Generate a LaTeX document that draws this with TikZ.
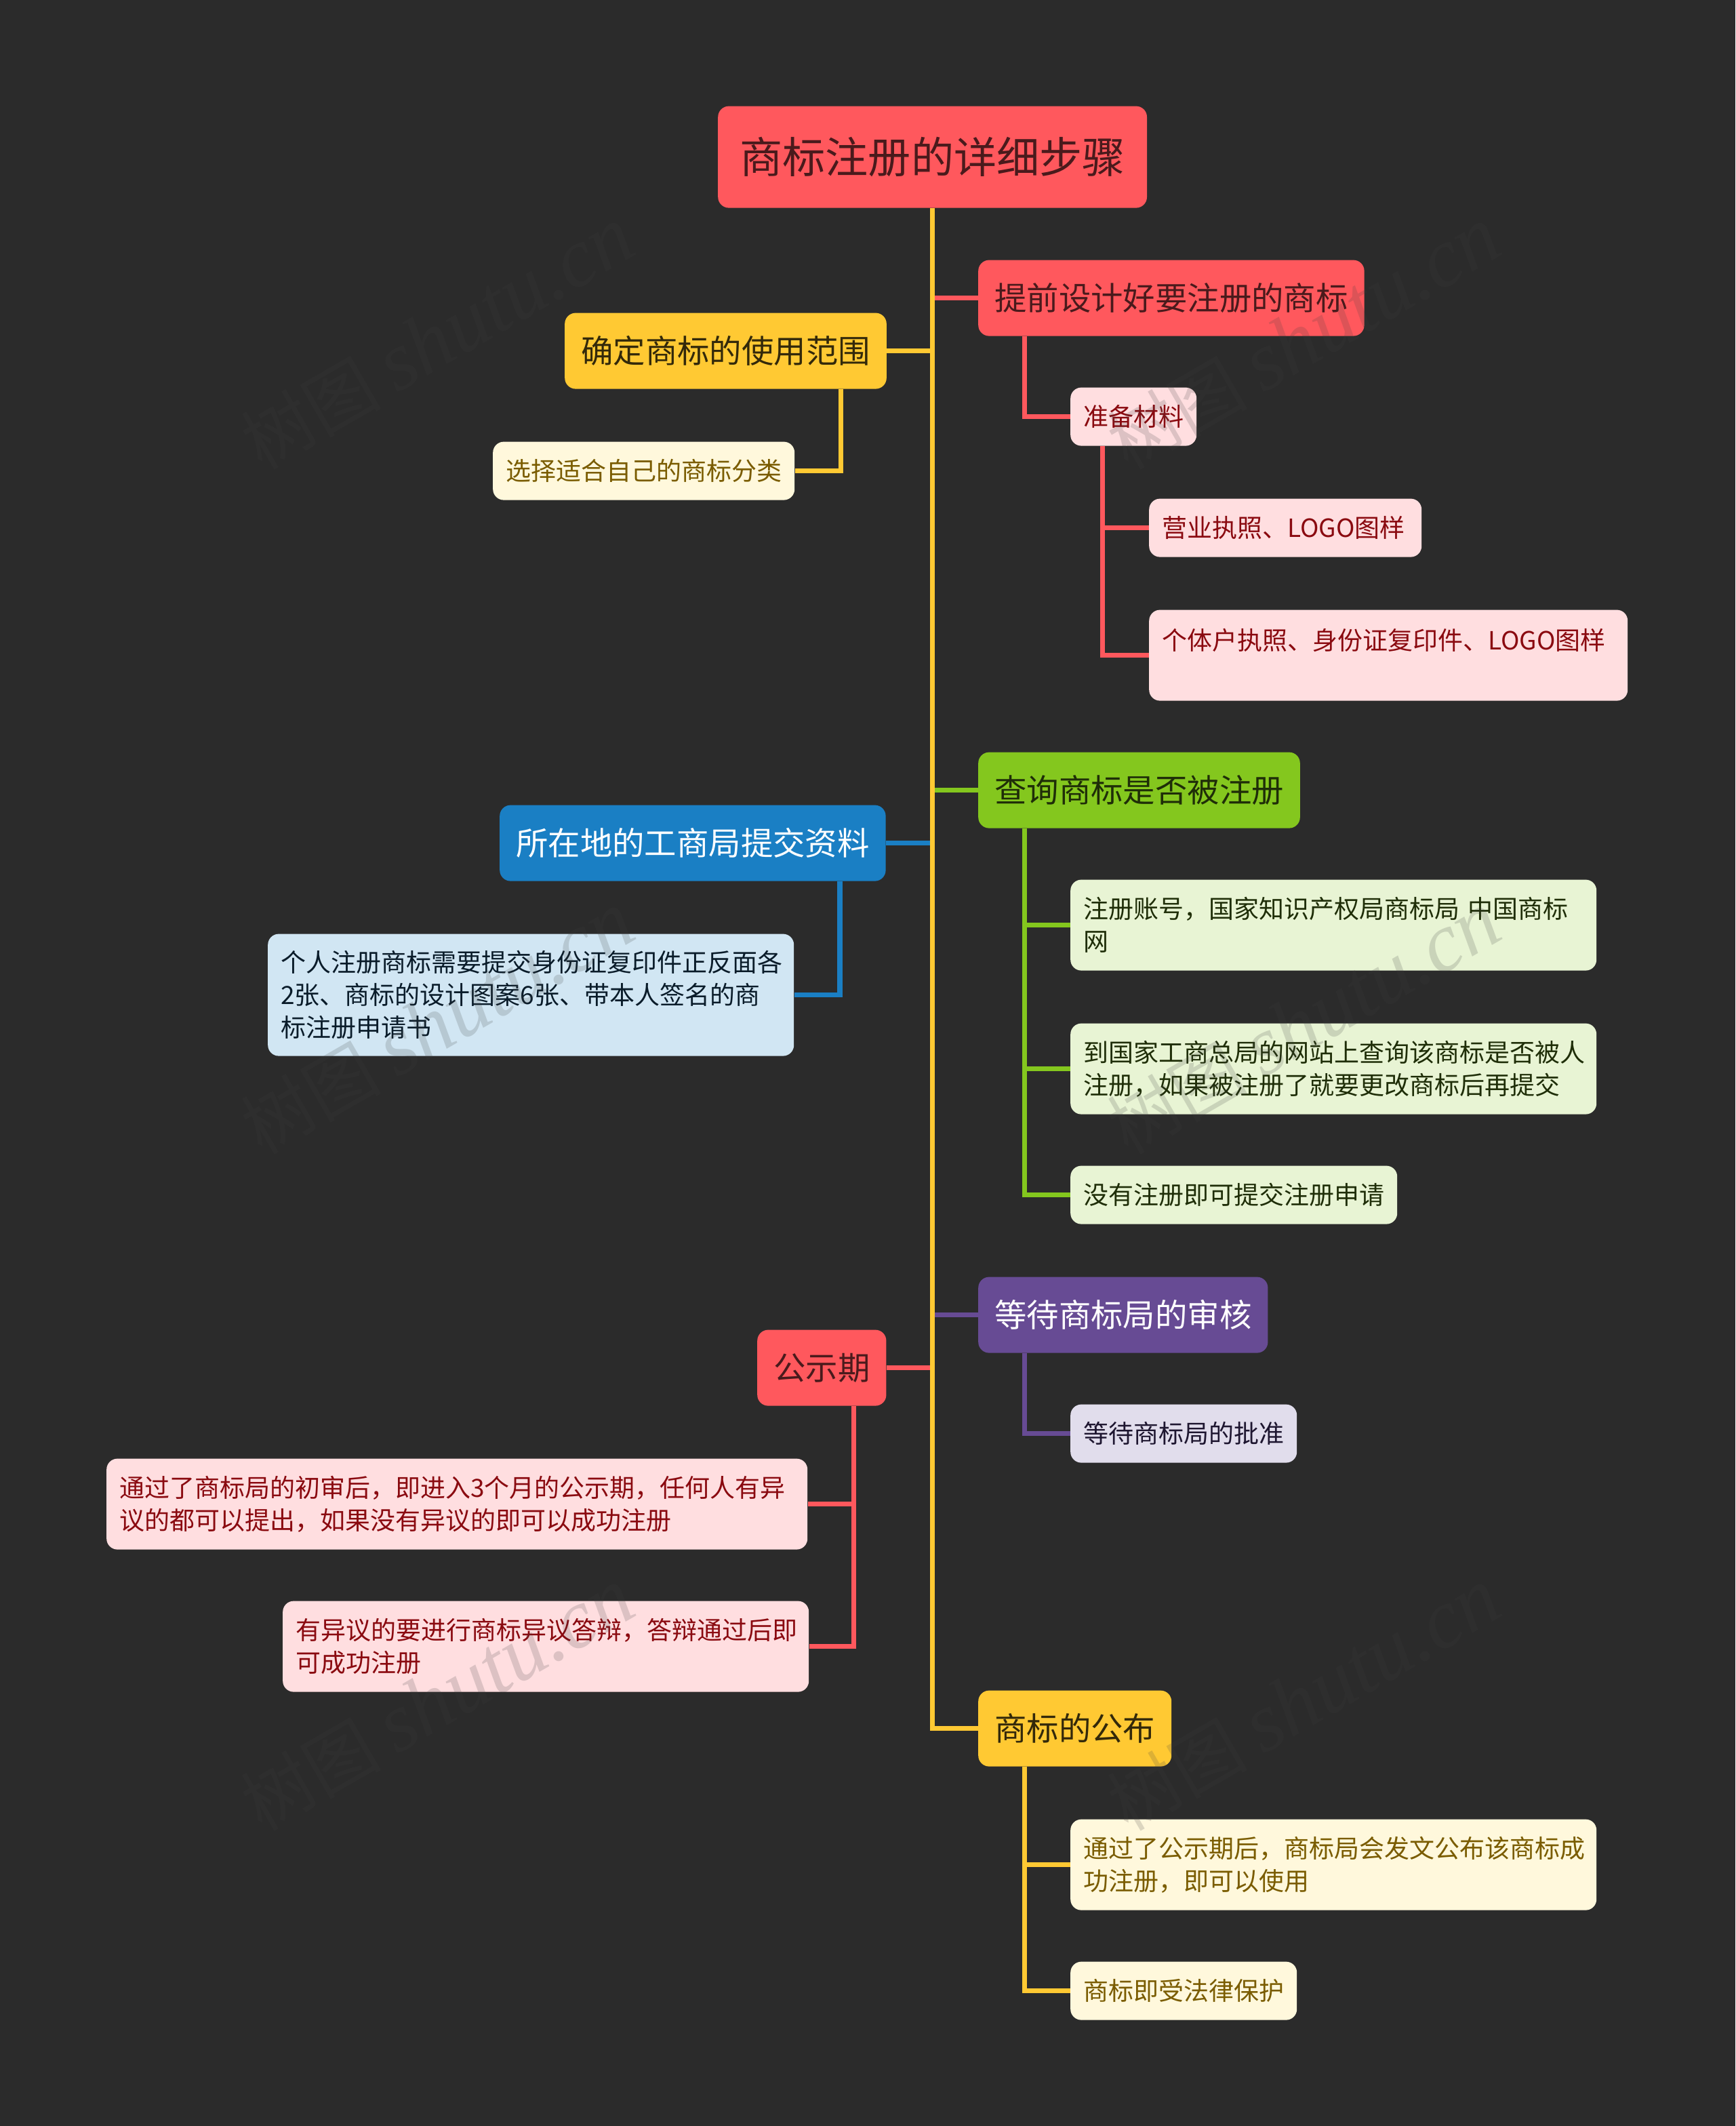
\documentclass[tikz,border=0pt]{standalone}
\usepackage{fontspec}
\setmainfont{Noto Sans CJK SC}
\newfontfamily\markfont[ItalicFont=Liberation Serif Italic]{Liberation Serif}

\definecolor{bgdark}{HTML}{2B2B2B}
\definecolor{redmain}{HTML}{FF585D}
\definecolor{redleaf}{HTML}{FFDEE0}
\definecolor{redtext}{HTML}{8A0A10}
\definecolor{redhead}{HTML}{4A1A1C}
\definecolor{yellowmain}{HTML}{FFC933}
\definecolor{yellowleaf}{HTML}{FFF8DC}
\definecolor{yellowtext}{HTML}{7A5C00}
\definecolor{yellowhead}{HTML}{33290A}
\definecolor{greenmain}{HTML}{84C71E}
\definecolor{greenleaf}{HTML}{E8F4D4}
\definecolor{greentext}{HTML}{1F2E08}
\definecolor{bluemain}{HTML}{1A7FC4}
\definecolor{blueleaf}{HTML}{D1E6F3}
\definecolor{bluetext}{HTML}{0A1C2A}
\definecolor{purplemain}{HTML}{674B94}
\definecolor{purpleleaf}{HTML}{E1DDEC}
\definecolor{purpletext}{HTML}{1E1630}
\definecolor{markgray}{HTML}{404040}

\tikzset{
    box/.style={rounded corners=8pt, anchor=north west, inner ysep=0pt, align=left},
    rootbox/.style={box, fill=redmain, text=redhead, inner xsep=16pt,
        font=\fontsize{31.6}{38}\selectfont, minimum height=75pt},
    topic/.style 2 args={box, fill=#1, text=#2, inner xsep=12pt,
        font=\fontsize{23.7}{30}\selectfont, minimum height=56pt},
    leaf/.style 2 args={box, fill=#1, text=#2, inner xsep=9.5pt,
        font=\fontsize{18.5}{24}\selectfont},
    oneline/.style={minimum height=43pt},
    twolines/.style={minimum height=67pt},
    link/.style={draw=#1, line width=3.6pt},
    markstyle/.style={rotate=30, text=markgray, opacity=0.18, inner sep=0pt,
        font=\fontsize{51.5}{60}\selectfont}
}

\begin{document}
\begin{tikzpicture}[x=1pt, y=-1pt]

    % Background and page size
    \fill[bgdark] (0,0) rectangle (1280,1568);
    \useasboundingbox (0,0) rectangle (1280,1568);

    \begin{scope}[shift={(-0.6,-0.4)}]

    % Root
    \node[rootbox] (root) at (530,78.5) {商标注册的详细步骤};

    % Right side, first topic
    \node[topic={redmain}{redhead}] (design) at (722,192) {提前设计好要注册的商标};
    \node[leaf={redleaf}{redtext}, oneline] (material) at (790,286) {准备材料};
    \node[leaf={redleaf}{redtext}, oneline, text width=182pt] (licence) at (848,368) {营业执照、LOGO图样};
    \node[leaf={redleaf}{redtext}, twolines, text width=334pt] (personal) at (848,450)
        {个体户执照、身份证复印件、LOGO图样\\\mbox{}};

    % Left side, scope of use
    \node[topic={yellowmain}{yellowhead}] (scope) at (417,231) {确定商标的使用范围};
    \node[leaf={yellowleaf}{yellowtext}, oneline] (category) at (364,326) {选择适合自己的商标分类};

    % Right side, search
    \node[topic={greenmain}{greentext}] (search) at (722,555) {查询商标是否被注册};
    \node[leaf={greenleaf}{greentext}, twolines, text width=369pt] (account) at (790,649)
        {注册账号，国家知识产权局商标局 中国商标\\网};
    \node[leaf={greenleaf}{greentext}, twolines, text width=369pt] (website) at (790,755)
        {到国家工商总局的网站上查询该商标是否被人\\注册，如果被注册了就要更改商标后再提交};
    \node[leaf={greenleaf}{greentext}, oneline] (apply) at (790,860) {没有注册即可提交注册申请};

    % Left side, submit
    \node[topic={bluemain}{white}] (submit) at (369,594) {所在地的工商局提交资料};
    \node[leaf={blueleaf}{bluetext}, minimum height=90pt, text width=369pt] (papers) at (198,689)
        {个人注册商标需要提交身份证复印件正反面各\\2张、商标的设计图案6张、带本人签名的商\\标注册申请书};

    % Right side, review
    \node[topic={purplemain}{white}] (review) at (722,942) {等待商标局的审核};
    \node[leaf={purpleleaf}{purpletext}, oneline] (approve) at (790,1036) {等待商标局的批准};

    % Left side, notice period
    \node[topic={redmain}{redhead}] (notice) at (559,981) {公示期};
    \node[leaf={redleaf}{redtext}, twolines, text width=498pt] (objection) at (79,1076)
        {通过了商标局的初审后，即进入3个月的公示期，任何人有异\\议的都可以提出，如果没有异议的即可以成功注册};
    \node[leaf={redleaf}{redtext}, twolines, text width=369pt] (defence) at (209,1181)
        {有异议的要进行商标异议答辩，答辩通过后即\\可成功注册};

    % Right side, publication
    \node[topic={yellowmain}{yellowhead}] (publish) at (722,1247) {商标的公布};
    \node[leaf={yellowleaf}{yellowtext}, twolines, text width=369pt] (success) at (790,1342)
        {通过了公示期后，商标局会发文公布该商标成\\功注册，即可以使用};
    \node[leaf={yellowleaf}{yellowtext}, oneline] (protect) at (790,1447) {商标即受法律保护};

    \end{scope}

    % Connectors off the spine
    \draw[link=redmain] (root.south |- design.west) -- (design.west);
    \draw[link=yellowmain] (root.south |- scope.east) -- (scope.east);
    \draw[link=greenmain] (root.south |- search.west) -- (search.west);
    \draw[link=bluemain] (root.south |- submit.east) -- (submit.east);
    \draw[link=purplemain] (root.south |- review.west) -- (review.west);
    \draw[link=redmain] (root.south |- notice.east) -- (notice.east);

    % The spine itself
    \draw[link=yellowmain] (root.south) |- (publish.west);

    % Elbows to the children
    \draw[link=redmain] ([xshift=34.5pt]design.south west) |- (material.west);
    \draw[link=redmain] ([xshift=24pt]material.south west) |- (licence.west);
    \draw[link=redmain] ([xshift=24pt]material.south west) |- (personal.west);
    \draw[link=yellowmain] ([xshift=-34pt]scope.south east) |- (category.east);
    \draw[link=greenmain] ([xshift=34.5pt]search.south west) |- (account.west);
    \draw[link=greenmain] ([xshift=34.5pt]search.south west) |- (website.west);
    \draw[link=greenmain] ([xshift=34.5pt]search.south west) |- (apply.west);
    \draw[link=bluemain] ([xshift=-34pt]submit.south east) |- (papers.east);
    \draw[link=purplemain] ([xshift=34.5pt]review.south west) |- (approve.west);
    \draw[link=redmain] ([xshift=-24pt]notice.south east) |- (objection.east);
    \draw[link=redmain] ([xshift=-24pt]notice.south east) |- (defence.east);
    \draw[link=yellowmain] ([xshift=34.5pt]publish.south west) |- (success.west);
    \draw[link=yellowmain] ([xshift=34.5pt]publish.south west) |- (protect.west);

    % Watermarks
    \foreach \wx/\wy in {323/250, 962/250, 323/755, 962/755, 323/1254, 962/1254}
        \node[markstyle] (mark-\wx-\wy) at (\wx,\wy)
            {树图 {\fontsize{61.7}{60}\selectfont\markfont\itshape shutu.cn}};

\end{tikzpicture}
\end{document}
